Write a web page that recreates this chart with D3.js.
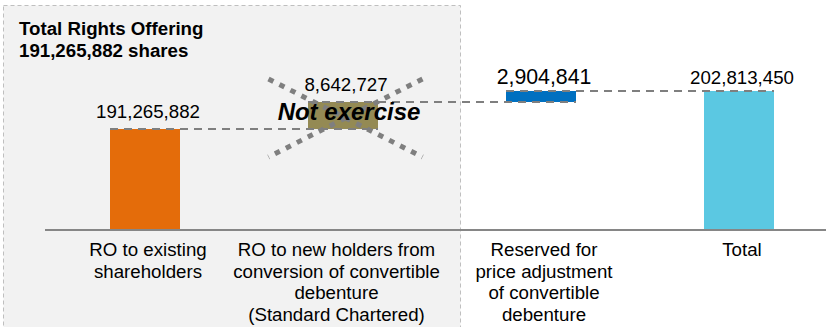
<!DOCTYPE html>
<html>
<head>
<meta charset="utf-8">
<script src="https://cdn.jsdelivr.net/npm/d3@7/dist/d3.min.js"></script>
<style>
  body { margin: 0; background: #fff; }
  text { font-family: Arial, "Liberation Sans", sans-serif; fill: #000; }
</style>
</head>
<body>
<div id="chart"></div>
<script>
// data
const categories = ["existing", "newHolders", "reserved", "total"];
const categoryLines = [
    ["RO to existing", "shareholders"],
    ["RO to new holders from", "conversion of convertible", "debenture", "(Standard Chartered)"],
    ["Reserved for", "price adjustment", "of convertible", "debenture"],
    ["Total"]
];
const values = [191265882, 8642727, 2904841, 202813450];
const valueLabels = ["191,265,882", "8,642,727", "2,904,841", "202,813,450"];
const isTotal = [false, false, false, true];
const barColors = ["#E46C0A", "#948A54", "#0070C0", "#5BC8E2"];
const panelTitle = ["Total Rights Offering", "191,265,882 shares"];
const notExercised = "Not exercise";

const width = 826, height = 327;
const baseY = 230;

// running start / end of each waterfall step
let running = 0;
const steps = values.map((v, i) => {
    if (isTotal[i]) return { key: categories[i], start: 0, end: v };
    const s = { key: categories[i], start: running, end: running + v };
    running += v;
    return s;
});

const svg = d3.select("#chart")
    .append("svg")
    .attr("width", width)
    .attr("height", height);

// x positions of the four columns
const x = d3.scaleBand()
    .domain(categories)
    .range([46, 838])
    .paddingInner(0.6465)
    .paddingOuter(0.6465 / 2);

// the slide is not drawn to scale: small steps are stretched so they stay visible,
// so use a piecewise (polylinear) scale through the cumulative levels
const levels = Array.from(new Set([0, ...steps.map(d => d.end)])).sort((a, b) => a - b);
const y = d3.scaleLinear()
    .domain(levels)
    .range([baseY, 129, 102, 91]);

// shaded "Total Rights Offering" panel
svg.append("rect")
    .attr("x", 3.5)
    .attr("y", 5.5)
    .attr("width", 457)
    .attr("height", 340)
    .attr("fill", "#f2f2f2")
    .attr("stroke", "#bfbfbf")
    .attr("stroke-dasharray", "4,3");

svg.append("text")
    .attr("x", 19)
    .attr("y", 35)
    .style("font-size", "18.7px")
    .style("font-weight", "bold")
    .selectAll("tspan")
    .data(panelTitle)
    .enter()
    .append("tspan")
    .attr("x", 19)
    .attr("dy", (d, i) => i === 0 ? 0 : 22)
    .text(d => d);

// bars
svg.selectAll("rect.bar")
    .data(steps)
    .enter()
    .append("rect")
    .attr("class", "bar")
    .attr("x", d => x(d.key))
    .attr("width", x.bandwidth())
    .attr("y", d => y(d.end))
    .attr("height", d => y(d.start) - y(d.end))
    .attr("fill", (d, i) => barColors[i]);

// dashed connectors between consecutive bars
const connectors = d3.pairs(steps);
svg.selectAll("line.conn")
    .data(connectors)
    .enter()
    .append("line")
    .attr("class", "conn")
    .attr("x1", d => x(d[0].key))
    .attr("x2", d => x(d[1].key) + x.bandwidth())
    .attr("y1", d => y(d[0].end))
    .attr("y2", d => y(d[0].end))
    .attr("stroke", "#7f7f7f")
    .attr("stroke-width", 2)
    .attr("stroke-dasharray", "8,6");

// crossed-out mark over the unexercised step
const crossed = steps[1];
const cx = x(crossed.key) + x.bandwidth() / 2 + 2.5;
const cy = (y(crossed.start) + y(crossed.end)) / 2 + 2.5;
const dx = 77, dy = 39;
svg.selectAll("line.cross")
    .data([[-1, -1, 1, 1], [1, -1, -1, 1]])
    .enter()
    .append("line")
    .attr("class", "cross")
    .attr("x1", d => cx + d[0] * dx)
    .attr("y1", d => cy + d[1] * dy)
    .attr("x2", d => cx + d[2] * dx)
    .attr("y2", d => cy + d[3] * dy)
    .attr("stroke", "#7f7f7f")
    .attr("stroke-width", 5)
    .attr("stroke-dasharray", "5.5,6.8");

// value labels
svg.selectAll("text.val")
    .data(steps)
    .enter()
    .append("text")
    .attr("class", "val")
    .attr("x", d => x(d.key) + x.bandwidth() / 2 + 3)
    .attr("y", (d, i) => y(d.end) - (i < 2 ? 11.5 : 7))
    .attr("text-anchor", "middle")
    .style("font-size", (d, i) => i === 2 ? "21.3px" : "18.7px")
    .text((d, i) => valueLabels[i]);

svg.append("text")
    .attr("x", x(crossed.key) + x.bandwidth() / 2 + 6)
    .attr("y", (y(crossed.start) + y(crossed.end)) / 2 + 4.5)
    .attr("text-anchor", "middle")
    .style("font-size", "24px")
    .style("font-weight", "bold")
    .style("font-style", "italic")
    .text(notExercised);

// axis baseline
svg.append("line")
    .attr("x1", 45)
    .attr("x2", width)
    .attr("y1", y(0))
    .attr("y2", y(0))
    .attr("stroke", "#868686")
    .attr("stroke-width", 2);

// category labels, wrapped as on the slide
const cat = svg.selectAll("text.cat")
    .data(categories)
    .enter()
    .append("text")
    .attr("class", "cat")
    .attr("text-anchor", "middle")
    .attr("y", 256)
    .style("font-size", "18.7px");

cat.selectAll("tspan")
    .data((d, i) => categoryLines[i].map(t => ({ key: d, t })))
    .enter()
    .append("tspan")
    .attr("x", d => x(d.key) + x.bandwidth() / 2 + (d.key === "newHolders" ? -6.5 : 3))
    .attr("dy", (d, i) => i === 0 ? 0 : 21.5)
    .text(d => d.t);
</script>
</body>
</html>
